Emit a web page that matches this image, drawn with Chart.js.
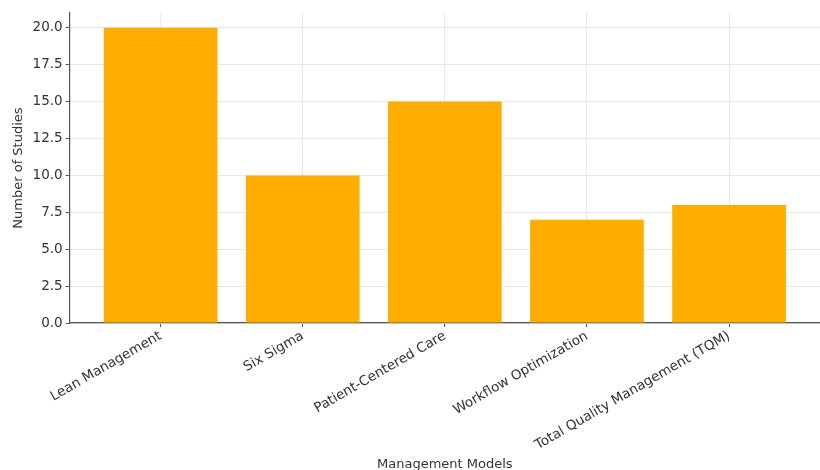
<!DOCTYPE html>
<html>
<head>
<meta charset="utf-8">
<script src="https://cdn.jsdelivr.net/npm/chart.js@4"></script>
<style>
    html, body { margin: 0; padding: 0; background: #fff; overflow: hidden; }
    #wrap { width: 820px; height: 472px; }
</style>
</head>
<body>
<div id="wrap"><canvas id="studiesChart"></canvas></div>
<script>
// Dados do gráfico
const categories = ['Lean Management', 'Six Sigma', 'Patient-Centered Care', 'Workflow Optimization', 'Total Quality Management (TQM)'];
const studyCounts = [20, 10, 15, 7, 8];
const yTickValues = [0, 2.5, 5, 7.5, 10, 12.5, 15, 17.5, 20];

const barColor = '#FFAD00';
const textColor = '#333333';
const gridColor = '#E8E8E8';

Chart.defaults.font.family = '"DejaVu Sans", sans-serif';
Chart.defaults.color = textColor;

const ctx = document.getElementById('studiesChart').getContext('2d');

const studiesChart = new Chart(ctx, {
    type: 'bar',
    data: {
        datasets: [{
            label: 'Number of Studies',
            data: studyCounts.map((v, i) => ({ x: i, y: v })),
            backgroundColor: barColor,
            borderWidth: 0,
            barPercentage: 0.8,
            categoryPercentage: 1.0
        }]
    },
    options: {
        responsive: true,
        maintainAspectRatio: false,
        animation: false,
        layout: { padding: { top: 13, right: 0, left: 11, bottom: 0 } },
        plugins: {
            legend: { display: false },
            tooltip: { enabled: false }
        },
        scales: {
            x: {
                type: 'linear',
                offset: false,
                min: -0.64,
                max: categories.length - 1 + 0.64,
                afterBuildTicks: function(scale) {
                    scale.ticks = categories.map((_, i) => ({ value: i }));
                },
                ticks: {
                    autoSkip: false,
                    maxRotation: 30,
                    minRotation: 30,
                    font: { size: 13.5 },
                    color: textColor,
                    padding: 1,
                    callback: function(value) {
                        return categories[value];
                    }
                },
                grid: { offset: false, color: gridColor, drawTicks: true, tickLength: 4, tickColor: '#555' },
                border: { color: '#555', width: 1.2 },
                title: {
                    display: true,
                    text: 'Management Models',
                    font: { size: 13 },
                    color: textColor,
                    padding: { top: 2, bottom: 0 }
                }
            },
            y: {
                min: 0,
                max: 21,
                afterBuildTicks: function(scale) {
                    scale.ticks = yTickValues.map(v => ({ value: v }));
                },
                ticks: {
                    font: { size: 13.5 },
                    color: textColor,
                    padding: 3,
                    callback: function(value) {
                        return value.toFixed(1);
                    }
                },
                grid: { color: gridColor, drawTicks: true, tickLength: 4, tickColor: '#555' },
                border: { color: '#555', width: 1.2 },
                title: {
                    display: true,
                    text: 'Number of Studies',
                    font: { size: 13 },
                    color: textColor,
                    padding: { top: 0, bottom: 3 }
                }
            }
        }
    }
});
</script>
</body>
</html>
